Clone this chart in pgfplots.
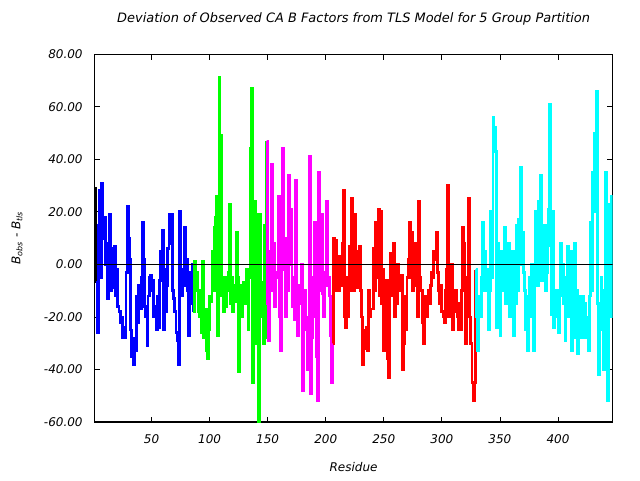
\documentclass[border=0pt]{standalone}
\usepackage{fontspec}
\setmainfont{DejaVu Sans}
\usepackage{pgfplots}
\pgfplotsset{compat=1.18}
\definecolor{cblue}{RGB}{0,0,255}
\definecolor{cgreen}{RGB}{0,255,0}
\definecolor{cmag}{RGB}{255,0,255}
\definecolor{cred}{RGB}{255,0,0}
\definecolor{ccyan}{RGB}{0,255,255}
\begin{document}
\begin{tikzpicture}
\path[use as bounding box] (0,0) rectangle (480pt,360pt);
\begin{axis}[
  at={(71pt,43.5pt)}, anchor=south west,
  scale only axis, width=388.4pt, height=275.8pt,
  xmin=1, xmax=447, ymin=-60, ymax=80,
  xtick={50,100,...,400}, ytick={-60,-40,...,80},
  tick align=inside, major tick length=4pt,
  tick style={black, line width=0.6pt},
  axis line style={line width=0.8pt},
  /pgf/number format/assume math mode=true,
  ticklabel style={font=\itshape\fontsize{9}{11}\selectfont},
  yticklabel style={/pgf/number format/fixed, /pgf/number format/fixed zerofill, /pgf/number format/precision=2, xshift=-5.5pt},
  xticklabel style={yshift=-6pt},
  title={\itshape Deviation of Observed CA B Factors from TLS Model for 5 Group Partition},
  title style={at={(axis description cs:0.5,1.0736)}, anchor=center, font=\fontsize{9.7}{11}\selectfont},
  xlabel={\itshape Residue},
  xlabel style={at={(axis description cs:0.5,-0.1224)}, anchor=center, font=\fontsize{9}{11}\selectfont},
  ylabel={\itshape B\textsubscript{obs} - B\textsubscript{tls}},
  ylabel style={at={(axis description cs:-0.15,0.5)}, anchor=center, font=\fontsize{9}{11}\selectfont},
  every axis plot/.append style={const plot, line width=2.1pt, line join=miter},
]
\addplot[black] coordinates {(1,29)(2,-7)};
\addplot[cblue] coordinates {
(2,-7)(3,-26)(4,15)(5,28)(6,-5)(7,31)(8,10)(9,18)(10,0)(11,8)
(12,-13)(13,5)(14,19)(15,-10)(16,6)(17,-9)(18,7)(19,-12)(20,-2)(21,-16)
(22,-18)(23,-22)(24,-20)(25,-28)(26,-24)(27,-28)(28,-3)(29,22)(30,10)(31,2)
(32,-25)(33,-35)(34,-38)(35,-28)(36,-33)(37,-12)(38,-22)(39,-8)(40,-17)(41,-5)
(42,16)(43,2)(44,-16)(45,-20)(46,-31)(47,-12)(48,-5)(49,-4)(50,-10)(51,-6)
(52,-20)(53,-16)(54,-25)(55,-12)(56,-24)(57,-6)(58,5)(59,13)(60,-25)(61,-2)
(62,-18)(63,-8)(64,6)(65,19)(66,8)(67,19)(68,-10)(69,-13)(70,-18)(71,-26)
(72,-29)(73,-38)(74,20)(75,-5)(76,-12)(77,-2)(78,14)(79,-8)(80,2)(81,-10)
(82,-27)(83,-3)(84,-15)(85,0)(86,-18)};
\addplot[cgreen] coordinates {
(86,-18)(87,1)(88,-10)(89,-3)(90,-18)(91,-20)(92,-10)(93,-26)(94,1)(95,-28)
(96,-17)(97,-33)(98,-36)(99,-25)(100,-12)(101,-14)(102,5)(103,-10)(104,14)(105,18)
(106,26)(107,-27)(108,71)(109,49)(110,-12)(111,-7)(112,-18)(113,-5)(114,-16)(115,-10)
(116,-3)(117,23)(118,-15)(119,-5)(120,-18)(121,-8)(122,-14)(123,12)(124,-5)(125,-41)
(126,-8)(127,-20)(128,-12)(129,-7)(130,-15)(131,-15)(132,-2)(133,-25)(134,-5)(135,44)
(136,67)(137,-45)(138,-5)(139,24)(140,-30)(141,19)(142,-60)(143,19)(144,-7)(145,-20)
(146,-30)(147,15)(148,-28)(149,47)};
\addplot[cmag] coordinates {
(149,47)(150,-15)(151,-29)(152,5)(153,38)(154,-10)(155,8)(156,-16)(157,-3)(158,-5)
(159,26)(160,-20)(161,-33)(162,0)(163,44)(164,-2)(165,-20)(166,10)(167,-10)(168,34)
(169,0)(170,21)(171,-16)(172,-5)(173,-21)(174,32)(175,-10)(176,-27)(177,-8)(178,-15)
(179,0)(180,-48)(181,-10)(182,-10)(183,-25)(184,-40)(185,-20)(186,41)(187,-49)(188,-28)
(189,-5)(190,16)(191,-20)(192,-35)(193,-52)(194,35)(195,-10)(196,19)(197,-11)(198,-20)
(199,-3)(200,-8)(201,24)(202,-5)(203,-12)(204,-27)(205,-45)(206,-30)};
\addplot[cred] coordinates {
(206,-30)(207,10)(208,9)(209,-10)(210,-5)(211,-10)(212,3)(213,-8)(214,8)(215,28)
(216,-20)(217,-24)(218,-5)(219,-20)(220,7)(221,-10)(222,25)(223,0)(224,-10)(225,19)
(226,-9)(227,5)(228,-9)(229,7)(230,-10)(231,-20)(232,-38)(233,-25)(234,-32)(235,-24)
(236,-33)(237,-10)(238,-20)(239,-17)(240,-17)(241,6)(242,-10)(243,16)(244,-5)(245,21)
(246,-12)(247,20)(248,-15)(249,-2)(250,-33)(251,-20)(252,-6)(253,-36)(254,-43)(255,-10)
(256,4)(257,-12)(258,8)(259,-20)(260,-10)(261,-15)(262,0)(263,-5)(264,-10)(265,-4)
(266,-40)(267,-30)(268,-12)(269,-25)(270,-5)(271,2)(272,16)(273,-5)(274,12)(275,-10)
(276,8)(277,-8)(278,5)(279,-20)(280,24)(281,-5)(282,-10)(283,-22)(284,-30)(285,-18)
(286,-12)(287,-20)(288,-10)(289,-15)(290,-8)(291,-3)(292,-5)(293,5)(294,2)(295,12)
(296,-3)(297,-10)(298,-15)(299,-8)(300,-18)(301,-20)(302,-22)(303,-10)(304,-2)(305,30)
(306,-20)(307,-8)(308,0)(309,-25)(310,-12)(311,-18)(312,-10)(313,-20)(314,-25)(315,-15)
(316,-25)(317,-10)(318,14)(319,8)(320,-30)(321,-10)(322,-5)(323,25)(324,-20)(325,-30)
(326,-45)(327,-52)(328,-45)(329,-2)};
\addplot[ccyan] coordinates {
(329,-2)(330,-20)(331,-33)(332,-12)(333,-20)(334,-5)(335,16)(336,-10)(337,5)(338,-10)
(339,-2)(340,-25)(341,-10)(342,20)(343,-5)(344,56)(345,52)(346,43)(347,-24)(348,8)
(349,-15)(350,-27)(351,5)(352,-10)(353,2)(354,14)(355,-15)(356,-5)(357,8)(358,-20)
(359,-10)(360,-15)(361,5)(362,-27)(363,-15)(364,15)(365,-10)(366,17)(367,0)(368,37)
(369,12)(370,-3)(371,-10)(372,-25)(373,-12)(374,-33)(375,-5)(376,-20)(377,0)(378,-20)
(379,-33)(380,-5)(381,20)(382,-8)(383,24)(384,10)(385,34)(386,-6)(387,0)(388,15)
(389,-10)(390,-3)(391,7)(392,21)(393,61)(394,-19)(395,20)(396,-24)(397,-12)(398,-20)
(399,-10)(400,-26)(401,-12)(402,8)(403,-8)(404,0)(405,-15)(406,-29)(407,-5)(408,7)
(409,-20)(410,-5)(411,5)(412,-33)(413,-10)(414,8)(415,-28)(416,-10)(417,-34)(418,-12)
(419,-18)(420,-28)(421,-12)(422,-20)(423,-15)(424,-28)(425,-20)(426,-33)(427,-12)(428,16)
(429,-10)(430,35)(431,50)(432,20)(433,66)(434,-15)(435,-42)(436,-20)(437,-5)(438,-25)
(439,-40)(440,-10)(441,35)(442,-30)(443,-52)(444,23)(445,-20)(446,26)(447,10)};
\addplot[black, line width=0.6pt, sharp plot] coordinates {(1,0)(447,0)};
\end{axis}
\end{tikzpicture}
\end{document}
